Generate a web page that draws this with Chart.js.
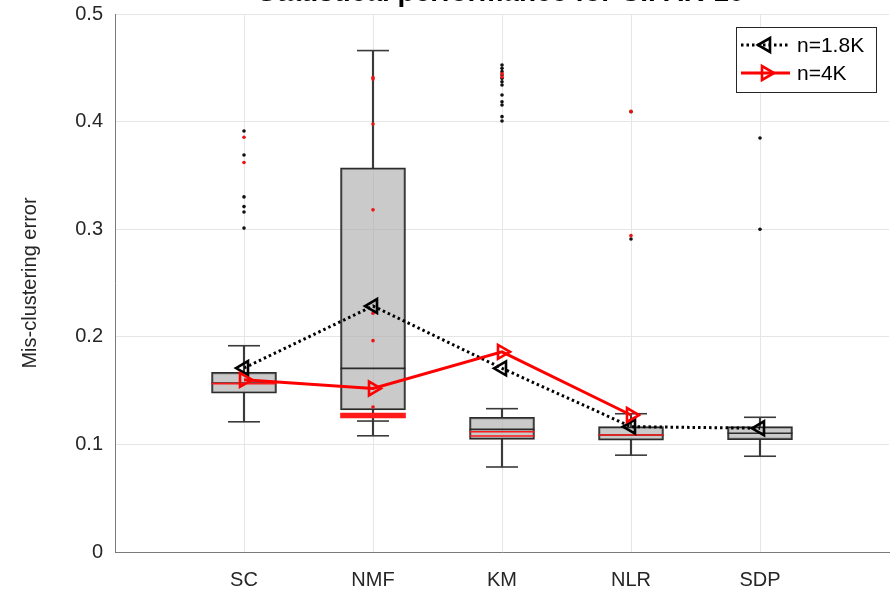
<!DOCTYPE html>
<html>
<head>
<meta charset="utf-8">
<script src="https://cdn.jsdelivr.net/npm/chart.js@4/dist/chart.umd.min.js"></script>
<style>
  html, body { margin: 0; padding: 0; background: #fff; }
  #wrap { width: 895px; height: 589px; }
</style>
</head>
<body>
<div id="wrap"><canvas id="chart" width="895" height="589"></canvas></div>
<script>
// --- data ---
const categories = ['SC', 'NMF', 'KM', 'NLR', 'SDP'];
const yTicks = [0, 0.1, 0.2, 0.3, 0.4, 0.5];

// gray boxes (whisker low, q1, median, q3, whisker high)
const whiskerLow  = [0.121, 0.108, 0.079, 0.090, 0.089];
const boxQ1       = [0.1475, 0.132, 0.1047, 0.104, 0.1044];
const boxMedian   = [0.157, 0.1707, 0.114, 0.1087, 0.1103];
const boxQ3       = [0.167, 0.357, 0.1252, 0.1165, 0.1165];
const whiskerHigh = [0.1917, 0.466, 0.1332, 0.1285, 0.1252];
const extraCaps   = [null, 0.1217, null, null, null];

// red (n=4K) box marks
const redLines = [[0.1565], [], [0.1118, 0.1078], [0.1087], []];
const redBox   = [null, [0.1245, 0.129], null, null, null];

// outliers
const blackOutliers = [
  [0.3913, 0.369, 0.330, 0.321, 0.316, 0.301],
  [],
  [0.4526, 0.4495, 0.4464, 0.4433, 0.4402, 0.4371, 0.434, 0.4247, 0.4185, 0.4154, 0.4046, 0.4006],
  [0.4092, 0.2909],
  [0.3848, 0.300]
];
const redOutliers = [
  [0.3854, 0.362],
  [0.441, 0.4395, 0.3978, 0.318, 0.222, 0.1964, 0.1348],
  [0.4445, 0.4415],
  [0.4095, 0.294],
  []
];

// mean lines
const n18 = [0.171, 0.2286, 0.1707, 0.1165, 0.115];
const n4  = [0.160, 0.152, 0.186, 0.1273, null];

const FONT = "'Liberation Sans', Helvetica, Arial, sans-serif";
Chart.defaults.font.family = FONT;
Chart.defaults.color = '#262626';

const xs = categories.map((c, i) => i + 1);
const pts = (arr) => arr.map((v, i) => ({ x: xs[i], y: v }));
const flat = (lists) => lists.flatMap((l, i) => l.map(v => ({ x: xs[i], y: v })));

const GRAY_LINE = '#3a3a3a';

const datasets = [
  // whiskers (thin floating bars)
  { type: 'bar', data: xs.map((x, i) => ({ x, y: [whiskerLow[i], boxQ1[i]] })),
    backgroundColor: GRAY_LINE, barThickness: 1.5, grouped: false, order: 9 },
  { type: 'bar', data: xs.map((x, i) => ({ x, y: [boxQ3[i], whiskerHigh[i]] })),
    backgroundColor: GRAY_LINE, barThickness: 1.5, grouped: false, order: 9 },
  // boxes
  { type: 'bar', data: xs.map((x, i) => ({ x, y: [boxQ1[i], boxQ3[i]] })),
    backgroundColor: 'rgba(170,170,170,0.62)', borderColor: '#2b2b2b', borderWidth: 1.6,
    borderSkipped: false, barThickness: 65, grouped: false, order: 8 },
  // whisker caps
  { type: 'line', showLine: false,
    data: pts(whiskerLow).concat(pts(whiskerHigh), pts(extraCaps).filter(p => p.y !== null)),
    pointStyle: 'line', pointRadius: 16, pointBorderWidth: 1.6, pointBorderColor: GRAY_LINE, order: 7 },
  // medians
  { type: 'line', showLine: false, data: pts(boxMedian),
    pointStyle: 'line', pointRadius: 32.5, pointBorderWidth: 1.6, pointBorderColor: '#2b2b2b', order: 6 },
  // red box marks
  { type: 'bar', data: xs.map((x, i) => ({ x, y: redBox[i] })).filter(p => p.y),
    backgroundColor: '#ff1a1a', barThickness: 65, grouped: false, order: 5 },
  { type: 'line', showLine: false, data: flat(redLines),
    pointStyle: 'line', pointRadius: 32.5, pointBorderWidth: 1.6, pointBorderColor: '#ff1a1a', order: 5 },
  // outliers
  { type: 'line', showLine: false, data: flat(blackOutliers),
    pointRadius: 1.8, pointBackgroundColor: '#111', pointBorderWidth: 0, order: 4 },
  { type: 'line', showLine: false, data: flat(redOutliers),
    pointRadius: 1.8, pointBackgroundColor: '#ee1111', pointBorderWidth: 0, order: 3 },
  // mean lines
  { type: 'line', label: 'n=1.8K', data: pts(n18),
    borderColor: '#000', borderWidth: 3, borderDash: [2.5, 3],
    pointStyle: 'triangle', rotation: -90, pointRadius: 8, pointBorderWidth: 2.6,
    pointBorderColor: '#000', pointBackgroundColor: 'rgba(0,0,0,0)', order: 1 },
  { type: 'line', label: 'n=4K', data: pts(n4),
    borderColor: '#ff0000', borderWidth: 3,
    pointStyle: 'triangle', rotation: 90, pointRadius: 8, pointBorderWidth: 2.6,
    pointBorderColor: '#ff0000', pointBackgroundColor: 'rgba(0,0,0,0)', order: 0 }
];

function triangle(ctx, x, y, r, rotDeg) {
  let rad = rotDeg * Math.PI / 180;
  ctx.beginPath();
  for (let k = 0; k < 3; k++) {
    const px = x + Math.sin(rad) * r, py = y - Math.cos(rad) * r;
    k === 0 ? ctx.moveTo(px, py) : ctx.lineTo(px, py);
    rad += 2 * Math.PI / 3;
  }
  ctx.closePath();
}

const decorations = {
  id: 'decorations',
  afterDraw(chart) {
    const ctx = chart.ctx;
    ctx.save();
    // title (clipped at the top like the reference)
    ctx.fillStyle = '#000';
    ctx.font = 'bold 28px ' + FONT;
    ctx.textAlign = 'center';
    ctx.textBaseline = 'alphabetic';
    ctx.fillText('Statistical performance for CIFAR-10', 501, 1);

    // legend box
    const lx = 736, ly = 27, lw = 140, lh = 65;
    ctx.fillStyle = '#fff';
    ctx.fillRect(lx, ly, lw, lh);
    ctx.strokeStyle = '#262626';
    ctx.lineWidth = 1;
    ctx.strokeRect(lx + 0.5, ly + 0.5, lw, lh);

    const rows = [
      { ds: chart.data.datasets[9], y: 45 },
      { ds: chart.data.datasets[10], y: 73 }
    ];
    rows.forEach(r => {
      ctx.strokeStyle = r.ds.borderColor;
      ctx.lineWidth = r.ds.borderWidth;
      ctx.setLineDash(r.ds.borderDash || []);
      ctx.beginPath();
      ctx.moveTo(741, r.y);
      ctx.lineTo(790, r.y);
      ctx.stroke();
      ctx.setLineDash([]);
      ctx.lineWidth = r.ds.pointBorderWidth;
      triangle(ctx, 766, r.y, r.ds.pointRadius, r.ds.rotation);
      ctx.stroke();
      ctx.fillStyle = '#000';
      ctx.font = '21px ' + FONT;
      ctx.textAlign = 'left';
      ctx.textBaseline = 'middle';
      ctx.fillText(r.ds.label, 797, r.y + 1);
    });
    ctx.restore();
  }
};

new Chart(document.getElementById('chart'), {
  type: 'bar',
  data: { datasets },
  options: {
    responsive: false,
    animation: false,
    layout: { autoPadding: false, padding: { top: 14, right: 6, left: 0, bottom: 0 } },
    plugins: { legend: { display: false }, tooltip: { enabled: false } },
    scales: {
      x: {
        type: 'linear', min: 0, max: 6, offset: false,
        grid: { color: '#e6e6e6', offset: false, drawTicks: false },
        border: { color: '#7a7a7a', width: 1 },
        afterBuildTicks: axis => { axis.ticks = xs.map(v => ({ value: v })); },
        afterFit: scale => {
          scale.height = 37;
          scale.paddingLeft = 0; scale.paddingRight = 0;
        },
        ticks: { font: { size: 20 }, padding: 16, color: '#262626',
          callback: v => categories[v - 1] }
      },
      y: {
        min: 0, max: 0.5,
        grid: { color: '#e6e6e6', drawTicks: false },
        border: { color: '#7a7a7a', width: 1 },
        afterBuildTicks: axis => { axis.ticks = yTicks.map(v => ({ value: v })); },
        afterFit: scale => {
          scale.width = 115;
          scale.paddingTop = 0; scale.paddingBottom = 0;
        },
        ticks: { font: { size: 20 }, padding: 12, color: '#262626',
          callback: v => (v === 0 ? '0' : v.toFixed(1)) },
        title: { display: true, text: 'Mis-clustering error', font: { size: 20 },
          color: '#262626', padding: { top: 18, bottom: 0 } }
      }
    }
  },
  plugins: [decorations]
});
</script>
</body>
</html>
